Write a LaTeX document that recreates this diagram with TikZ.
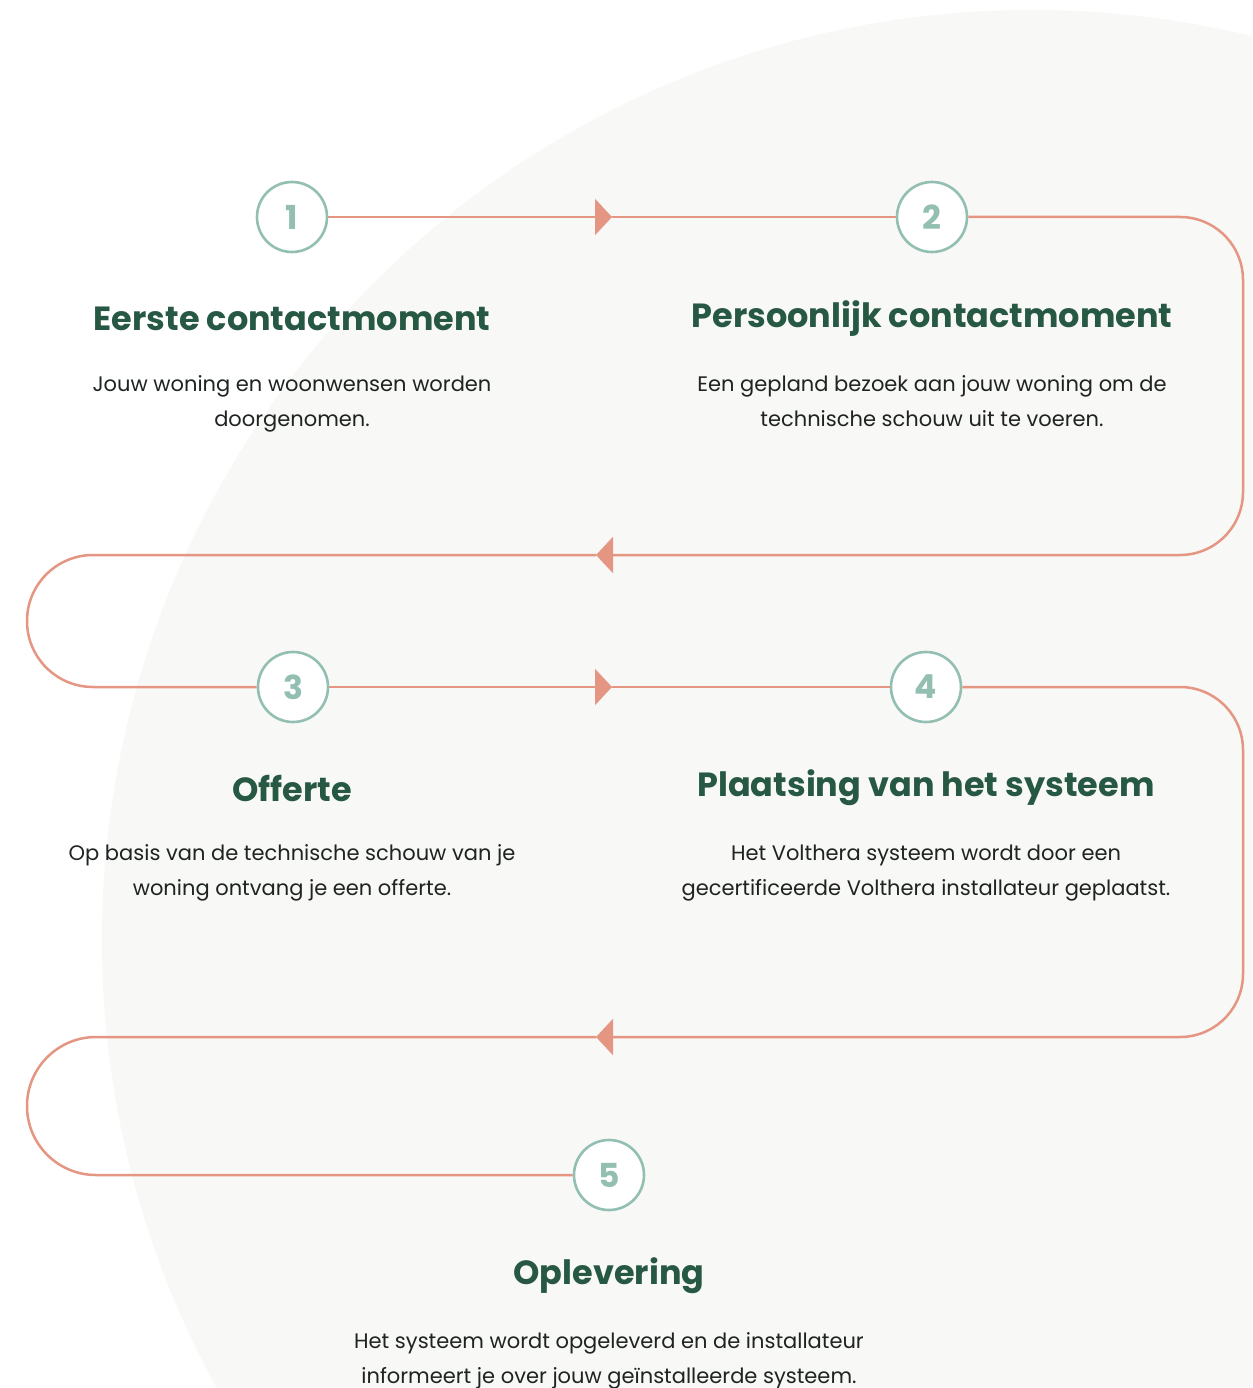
\documentclass[tikz,border=0pt]{standalone}
\usepackage{fontspec}
\setmainfont{Poppins}
\usetikzlibrary{arrows.meta}
\definecolor{salmon}{HTML}{E59682}
\definecolor{teal}{HTML}{93BEB2}
\definecolor{titlegreen}{HTML}{265844}
\definecolor{bodytext}{HTML}{1E2421}
\definecolor{bgc}{HTML}{F8F8F6}
\tikzset{
  stepcirc/.style={circle, draw=teal, line width=2.6pt, fill=white, minimum size=70pt, inner sep=0pt,
    text=teal, font=\fontsize{33}{33}\selectfont\bfseries},
  flow/.style={draw=salmon, line width=2.5pt},
  tri/.tip={Triangle[width=36pt,length=17pt]},
  steptitle/.style={text=titlegreen, font=\fontsize{33.5}{33.5}\selectfont\bfseries, anchor=center},
  stepbody/.style={text=bodytext, font=\fontsize{21}{35}\selectfont, align=center, anchor=north}
}
\begin{document}
\begin{tikzpicture}[x=1pt,y=-1pt]
\useasboundingbox (0,0) rectangle (1252,1388);
\fill[white] (0,0) rectangle (1252,1388);
\begin{scope}
\clip (0,0) rectangle (1252,1388);
\fill[bgc] (1032,940) circle (930);
\end{scope}

\node[stepcirc] (n1) at (292,217) {1};
\node[stepcirc] (n2) at (932,217) {2};
\node[stepcirc] (n3) at (293,687) {3};
\node[stepcirc] (n4) at (926,687) {4};
\node[stepcirc] (n5) at (609,1175) {5};

\coordinate (m1) at (612,217);
\coordinate (m2) at (596,555);
\coordinate (m3) at (612,687);
\coordinate (m4) at (596,1037);

\draw[flow,-tri] (n1) -- (m1);
\draw[flow] (m1) -- (n2);
\draw[flow,-tri,rounded corners=63pt] (n2.east) -- (1243,217) -- (1243,555) -- (m2);
\draw[flow,rounded corners=66pt] (m2) -- (27,555) -- (27,687) -- (n3.west);
\draw[flow,-tri] (n3) -- (m3);
\draw[flow] (m3) -- (n4);
\draw[flow,-tri,rounded corners=63pt] (n4.east) -- (1243,687) -- (1243,1037) -- (m4);
\draw[flow,rounded corners=69pt] (m4) -- (27,1037) -- (27,1175) -- (n5.west);

\node[steptitle] (t1) at (292,319) {Eerste contactmoment};
\node[stepbody] (b1) at (292,372) {Jouw woning en woonwensen worden\\doorgenomen.};
\node[steptitle] (t2) at (932,319) {Persoonlijk contactmoment};
\node[stepbody] (b2) at (932,372) {Een gepland bezoek aan jouw woning om de\\technische schouw uit te voeren.};
\node[steptitle] (t3) at (292,788) {Offerte};
\node[stepbody] (b3) at (292,841) {Op basis van de technische schouw van je\\woning ontvang je een offerte.};
\node[steptitle] (t4) at (926,788) {Plaatsing van het systeem};
\node[stepbody] (b4) at (926,841) {Het Volthera systeem wordt door een\\gecertificeerde Volthera installateur geplaatst.};
\node[steptitle] (t5) at (609,1276) {Oplevering};
\node[stepbody] (b5) at (609,1329) {Het systeem wordt opgeleverd en de installateur\\informeert je over jouw geïnstalleerde systeem.};
\end{tikzpicture}
\end{document}
